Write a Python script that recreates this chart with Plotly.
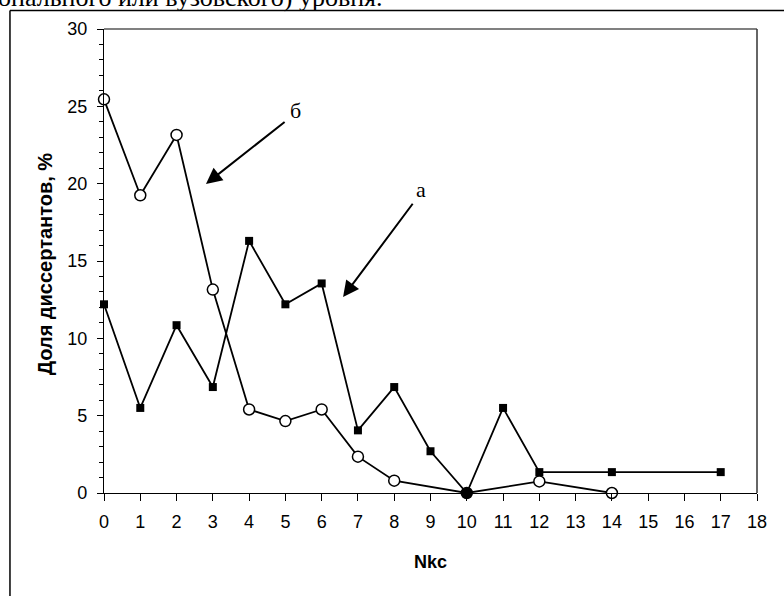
import plotly.graph_objects as go

# Series a (filled squares)
xa = [0, 1, 2, 3, 4, 5, 6, 7, 8, 9, 10, 11, 12, 14, 17]
ya = [12.2, 5.5, 10.85, 6.85, 16.3, 12.2, 13.55, 4.05, 6.85, 2.7, 0, 5.5, 1.35, 1.35, 1.35]
# Series b (open circles)
xb = [0, 1, 2, 3, 4, 5, 6, 7, 8, 10, 12, 14]
yb = [25.45, 19.25, 23.15, 13.15, 5.4, 4.65, 5.4, 2.35, 0.8, 0, 0.75, 0]

x_ticks = list(range(0, 19))
y_ticks = [0, 5, 10, 15, 20, 25, 30]

fig = go.Figure()
fig.add_trace(go.Scatter(x=xa, y=ya, mode="lines+markers",
                         line=dict(color="black", width=1.8),
                         marker=dict(symbol="square", size=8, color="black"),
                         cliponaxis=False, showlegend=False, hoverinfo="skip"))
fig.add_trace(go.Scatter(x=xb, y=yb, mode="lines+markers",
                         line=dict(color="black", width=1.8),
                         marker=dict(symbol="circle", size=11,
                                     color=["white" if v != 10 else "black" for v in xb],
                                     line=dict(color="black", width=1.5)),
                         cliponaxis=False, showlegend=False, hoverinfo="skip"))

fig.update_layout(
    width=784, height=596,
    margin=dict(l=104, r=27, t=29, b=103),
    paper_bgcolor="white", plot_bgcolor="white",
    font=dict(family="Liberation Sans, Arial", size=18, color="black"),
    xaxis=dict(range=[0, 18], tickvals=x_ticks, ticktext=[str(v) for v in x_ticks],
               showgrid=False, zeroline=False, showline=True, linecolor="black", linewidth=1.2,
               ticks="outside", ticklen=7, tickcolor="black", tickwidth=1,
               ticklabelstandoff=5),
    yaxis=dict(range=[0, 30], tickvals=y_ticks, ticktext=[str(v) for v in y_ticks],
               showgrid=False, zeroline=False, showline=True, linecolor="black", linewidth=1.2,
               ticks="outside", ticklen=6, tickcolor="black", tickwidth=1,
               minor=dict(dtick=1, ticks="outside", ticklen=4, tickcolor="black"),
               ticklabelstandoff=6),
    shapes=[
        # plot frame top (gray) and right (dark)
        dict(type="line", xref="paper", yref="paper", x0=0, x1=1, y0=1, y1=1,
             line=dict(color="#808080", width=2)),
        dict(type="line", xref="paper", yref="paper", x0=1, x1=1, y0=0, y1=1,
             line=dict(color="#333333", width=1.5)),
        # page frame lines
        dict(type="line", xref="paper", yref="paper", x0=-0.144, x1=1.06, y0=1.0399, y1=1.0399,
             line=dict(color="black", width=1.5)),
        dict(type="line", xref="paper", yref="paper", x0=-0.144, x1=-0.144, y0=1.0399, y1=-0.25,
             line=dict(color="black", width=1.5)),
    ],
    annotations=[
        dict(text="онального или вузовского) уровня.", xref="paper", yref="paper",
             x=-0.165, y=1.033, xanchor="left", yanchor="bottom", showarrow=False,
             font=dict(family="Liberation Serif, Times New Roman", size=26, color="black")),
        dict(text="<b>Доля диссертантов, %</b>", xref="paper", yref="paper",
             x=-0.0904, y=0.495, xanchor="center", yanchor="middle", textangle=-90,
             showarrow=False, font=dict(size=20)),
        dict(text="<b>Nkc</b>", xref="paper", yref="paper", x=0.5, y=-0.149,
             xanchor="center", yanchor="middle", showarrow=False, font=dict(size=18)),
        # arrow б
        dict(x=2.81, y=19.98, ax=5.02, ay=24.06, xref="x", yref="y", axref="x", ayref="y",
             showarrow=True, arrowhead=2, arrowsize=1.6, arrowwidth=2, arrowcolor="black", text=""),
        dict(text="б", x=5.29, y=24.7, xref="x", yref="y", showarrow=False,
             font=dict(family="Liberation Serif, Times New Roman", size=22)),
        # arrow а
        dict(x=6.59, y=12.67, ax=8.54, ay=18.8, xref="x", yref="y", axref="x", ayref="y",
             showarrow=True, arrowhead=2, arrowsize=1.6, arrowwidth=2, arrowcolor="black", text=""),
        dict(text="а", x=8.74, y=19.6, xref="x", yref="y", showarrow=False,
             font=dict(family="Liberation Serif, Times New Roman", size=22)),
    ],
)

fig.write_html("out.html", config={"displayModeBar": False},
               post_script="document.body.style.margin='0px';document.body.style.overflow='hidden';")
